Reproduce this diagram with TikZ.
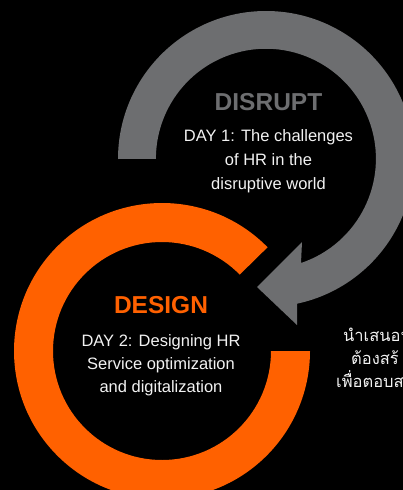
\documentclass[tikz,border=0pt]{standalone}
\usepackage{fontspec}
\setmainfont{Liberation Sans}
\newfontfamily\thaifont[Script=Thai]{Loma}
\usetikzlibrary{calc}
\definecolor{arrowgray}{HTML}{6D6E70}
\definecolor{ringorange}{HTML}{FF6100}
\definecolor{txtwhite}{HTML}{F2F2F2}
\tikzset{
  bodytxt/.style={inner sep=0pt, anchor=base, text=txtwhite, font=\fontsize{16.5}{24}\selectfont},
  titlegray/.style={inner sep=0pt, anchor=base, text=arrowgray, font=\fontsize{24.5}{28}\selectfont\bfseries},
  titleorange/.style={inner sep=0pt, anchor=base, text=ringorange, font=\fontsize{24.5}{28}\selectfont\bfseries},
  thaitxt/.style={inner sep=0pt, anchor=base west, text=txtwhite, font=\fontsize{16.5}{24}\thaifont\selectfont},
}
\begin{document}
\begin{tikzpicture}[x=1pt,y=-1pt]
\useasboundingbox (0,0) rectangle (403,490);
\clip (0,0) rectangle (403,490);
\fill[black] (0,0) rectangle (403,490);
\coordinate (G) at (266,159);
\coordinate (O) at (162,351);
% orange ring
\fill[ringorange] ($(O)+(-44.5:148)$) arc[start angle=-44.5, end angle=-360, radius=148]
  -- ($(O)+(0:109)$) arc[start angle=0, end angle=315.5, radius=109] -- cycle;
% gray arrow
\fill[arrowgray] ($(G)+(180:148)$) arc[start angle=180, end angle=437.9, radius=148]
  -- (297,325) -- (257,287) -- (302,242) -- (301,263)
  arc[start angle=431.4, end angle=180, radius=110] -- cycle;
% texts
\node[titlegray] (t1) at (268.5,110) {DISRUPT};
\node[bodytxt] (d1a) at (268.5,141) {DAY 1: The challenges};
\node[bodytxt] (d1b) at (268.5,165) {of HR in the};
\node[bodytxt] (d1c) at (268.5,189) {disruptive world};
\node[titleorange] (t2) at (161,313) {DESIGN};
\node[bodytxt] (d2a) at (161,346) {DAY 2: Designing HR};
\node[bodytxt] (d2b) at (161,369.5) {Service optimization};
\node[bodytxt] (d2c) at (161,392.5) {and digitalization};
\node[thaitxt] (th1) at (343,341) {นำเสนอน};
\node[thaitxt] (th2) at (351,364) {ต้องสร้};
\node[thaitxt] (th3) at (336,387) {เพื่อตอบส};
\end{tikzpicture}
\end{document}
